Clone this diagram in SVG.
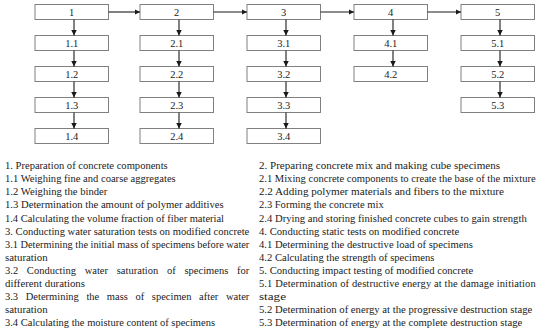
<svg xmlns="http://www.w3.org/2000/svg" width="550" height="332" viewBox="0 0 550 332">
<style>
.box rect{fill:#fff;stroke:#808080;stroke-width:1}
.box text{font-family:"Liberation Serif",serif;font-size:10.5px;fill:#222;text-anchor:middle}
.conn line{stroke:#1a1a1a;stroke-width:1.1;marker-end:url(#ah)}
.legend text{font-family:"Liberation Serif",serif;font-size:10.5px;fill:#222}
</style>
<defs>
<marker id="ah" viewBox="0 0 10 10" refX="10" refY="5" markerWidth="5.5" markerHeight="5.5" markerUnits="userSpaceOnUse" orient="auto">
<path d="M0,0 L10,5 L0,10 z" fill="#1a1a1a"/>
</marker>
</defs>
<rect width="550" height="332" fill="#fff"/>
<g id="n1" class="box"><rect x="35" y="4.5" width="73.5" height="15"/><text x="71.7" y="15.7">1</text></g>
<g id="n1.1" class="box"><rect x="35" y="35.5" width="73.5" height="15"/><text x="71.7" y="46.7">1.1</text></g>
<g id="n1.2" class="box"><rect x="35" y="66.5" width="73.5" height="15"/><text x="71.7" y="77.7">1.2</text></g>
<g id="n1.3" class="box"><rect x="35" y="97.5" width="73.5" height="15"/><text x="71.7" y="108.7">1.3</text></g>
<g id="n1.4" class="box"><rect x="35" y="128.5" width="73.5" height="15"/><text x="71.7" y="139.7">1.4</text></g>
<g id="n2" class="box"><rect x="140" y="4.5" width="73.5" height="15"/><text x="176.7" y="15.7">2</text></g>
<g id="n2.1" class="box"><rect x="140" y="35.5" width="73.5" height="15"/><text x="176.7" y="46.7">2.1</text></g>
<g id="n2.2" class="box"><rect x="140" y="66.5" width="73.5" height="15"/><text x="176.7" y="77.7">2.2</text></g>
<g id="n2.3" class="box"><rect x="140" y="97.5" width="73.5" height="15"/><text x="176.7" y="108.7">2.3</text></g>
<g id="n2.4" class="box"><rect x="140" y="128.5" width="73.5" height="15"/><text x="176.7" y="139.7">2.4</text></g>
<g id="n3" class="box"><rect x="247" y="4.5" width="73.5" height="15"/><text x="283.7" y="15.7">3</text></g>
<g id="n3.1" class="box"><rect x="247" y="35.5" width="73.5" height="15"/><text x="283.7" y="46.7">3.1</text></g>
<g id="n3.2" class="box"><rect x="247" y="66.5" width="73.5" height="15"/><text x="283.7" y="77.7">3.2</text></g>
<g id="n3.3" class="box"><rect x="247" y="97.5" width="73.5" height="15"/><text x="283.7" y="108.7">3.3</text></g>
<g id="n3.4" class="box"><rect x="247" y="128.5" width="73.5" height="15"/><text x="283.7" y="139.7">3.4</text></g>
<g id="n4" class="box"><rect x="354" y="4.5" width="73.5" height="15"/><text x="390.7" y="15.7">4</text></g>
<g id="n4.1" class="box"><rect x="354" y="35.5" width="73.5" height="15"/><text x="390.7" y="46.7">4.1</text></g>
<g id="n4.2" class="box"><rect x="354" y="66.5" width="73.5" height="15"/><text x="390.7" y="77.7">4.2</text></g>
<g id="n5" class="box"><rect x="461" y="4.5" width="73.5" height="15"/><text x="497.7" y="15.7">5</text></g>
<g id="n5.1" class="box"><rect x="461" y="35.5" width="73.5" height="15"/><text x="497.7" y="46.7">5.1</text></g>
<g id="n5.2" class="box"><rect x="461" y="66.5" width="73.5" height="15"/><text x="497.7" y="77.7">5.2</text></g>
<g id="n5.3" class="box"><rect x="461" y="97.5" width="73.5" height="15"/><text x="497.7" y="108.7">5.3</text></g>
<g id="connectors" class="conn">
<line x1="108.5" y1="12" x2="140" y2="12"/>
<line x1="213.5" y1="12" x2="247" y2="12"/>
<line x1="320.5" y1="12" x2="354" y2="12"/>
<line x1="427.5" y1="12" x2="461" y2="12"/>
<line x1="74" y1="19.5" x2="74" y2="35.5"/>
<line x1="74" y1="50.5" x2="74" y2="66.5"/>
<line x1="74" y1="81.5" x2="74" y2="97.5"/>
<line x1="74" y1="112.5" x2="74" y2="128.5"/>
<line x1="179" y1="19.5" x2="179" y2="35.5"/>
<line x1="179" y1="50.5" x2="179" y2="66.5"/>
<line x1="179" y1="81.5" x2="179" y2="97.5"/>
<line x1="179" y1="112.5" x2="179" y2="128.5"/>
<line x1="286" y1="19.5" x2="286" y2="35.5"/>
<line x1="286" y1="50.5" x2="286" y2="66.5"/>
<line x1="286" y1="81.5" x2="286" y2="97.5"/>
<line x1="286" y1="112.5" x2="286" y2="128.5"/>
<line x1="393" y1="19.5" x2="393" y2="35.5"/>
<line x1="393" y1="50.5" x2="393" y2="66.5"/>
<line x1="500" y1="19.5" x2="500" y2="35.5"/>
<line x1="500" y1="50.5" x2="500" y2="66.5"/>
<line x1="500" y1="81.5" x2="500" y2="97.5"/>
</g>
<g id="legend" class="legend">
<text x="5" y="169.3" textLength="162.7" lengthAdjust="spacingAndGlyphs">1. Preparation of concrete components</text>
<text x="5" y="182.3" textLength="170.7" lengthAdjust="spacingAndGlyphs">1.1 Weighing fine and coarse aggregates</text>
<text x="5" y="195.4" textLength="102.3" lengthAdjust="spacingAndGlyphs">1.2 Weighing the binder</text>
<text x="5" y="208.4" textLength="218.7" lengthAdjust="spacingAndGlyphs">1.3 Determination the amount of polymer additives</text>
<text x="5" y="221.5" textLength="219" lengthAdjust="spacingAndGlyphs">1.4 Calculating the volume fraction of fiber material</text>
<text x="5" y="234.5" textLength="244.3" lengthAdjust="spacingAndGlyphs">3. Conducting water saturation tests on modified concrete</text>
<text x="5" y="247.6" textLength="244.3" lengthAdjust="spacingAndGlyphs">3.1 Determining the initial mass of specimens before water</text>
<text x="5" y="260.6" textLength="42.7" lengthAdjust="spacingAndGlyphs">saturation</text>
<text x="5" y="273.7" style="word-spacing:6.1px" textLength="244.3" lengthAdjust="spacing">3.2 Conducting water saturation of specimens for</text>
<text x="5" y="286.7" textLength="80" lengthAdjust="spacingAndGlyphs">different durations</text>
<text x="5" y="299.8" style="word-spacing:5px" textLength="244.3" lengthAdjust="spacing">3.3 Determining the mass of specimen after water</text>
<text x="5" y="312.8" textLength="42.7" lengthAdjust="spacingAndGlyphs">saturation</text>
<text x="5" y="325.9" textLength="210" lengthAdjust="spacingAndGlyphs">3.4 Calculating the moisture content of specimens</text>
<text x="259" y="169.3" textLength="241" lengthAdjust="spacingAndGlyphs">2. Preparing concrete mix and making cube specimens</text>
<text x="259" y="182.3" textLength="276.7" lengthAdjust="spacingAndGlyphs">2.1 Mixing concrete components to create the base of the mixture</text>
<text x="259" y="195.4" textLength="245" lengthAdjust="spacingAndGlyphs">2.2 Adding polymer materials and fibers to the mixture</text>
<text x="259" y="208.4" textLength="124.7" lengthAdjust="spacingAndGlyphs">2.3 Forming the concrete mix</text>
<text x="259" y="221.5" textLength="267.7" lengthAdjust="spacingAndGlyphs">2.4 Drying and storing finished concrete cubes to gain strength</text>
<text x="259" y="234.5" textLength="200.3" lengthAdjust="spacingAndGlyphs">4. Conducting static tests on modified concrete</text>
<text x="259" y="247.6" textLength="214" lengthAdjust="spacingAndGlyphs">4.1 Determining the destructive load of specimens</text>
<text x="259" y="260.6" textLength="175.3" lengthAdjust="spacingAndGlyphs">4.2 Calculating the strength of specimens</text>
<text x="259" y="273.7" textLength="214.3" lengthAdjust="spacingAndGlyphs">5. Conducting impact testing of modified concrete</text>
<text x="259" y="286.7" textLength="276.7" lengthAdjust="spacing">5.1 Determination of destructive energy at the damage initiation</text>
<text x="259" y="299.8" textLength="27" lengthAdjust="spacingAndGlyphs">stage</text>
<text x="259" y="312.8" textLength="273.3" lengthAdjust="spacingAndGlyphs">5.2 Determination of energy at the progressive destruction stage</text>
<text x="259" y="325.9" textLength="263.3" lengthAdjust="spacingAndGlyphs">5.3 Determination of energy at the complete destruction stage</text>
</g>
</svg>
